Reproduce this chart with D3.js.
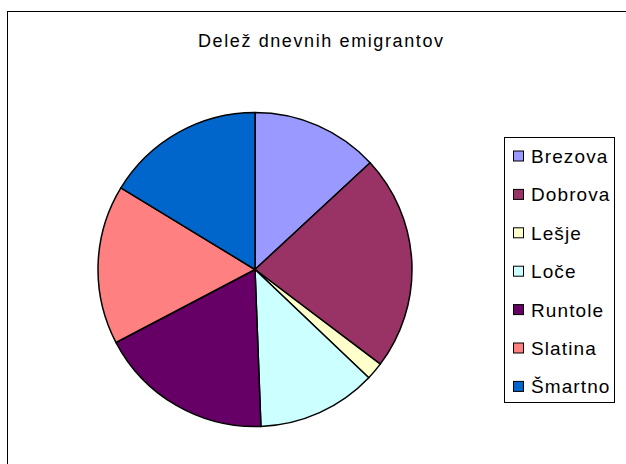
<!DOCTYPE html>
<html><head><meta charset="utf-8">
<script src="https://cdn.jsdelivr.net/npm/d3@7"></script>
<style>body{margin:0;background:#fff}svg{display:block}</style>
</head><body>
<script>
const title = "Delež dnevnih emigrantov";
const categories = ["Brezova","Dobrova","Lešje","Loče","Runtole","Slatina","Šmartno"];
const values = [131, 222, 18, 123, 179, 164, 163];
const colors = ["#9999FF","#993366","#FFFFCC","#CCFFFF","#660066","#FF8080","#0066CC"];

const W = 626, H = 464;
const svg = d3.select("body").append("svg").attr("width", W).attr("height", H);
svg.append("rect").attr("width", W).attr("height", H).attr("fill", "#fff");
// chart area border (extends past right/bottom)
svg.append("rect").attr("x", 7.5).attr("y", 11.5).attr("width", W + 10).attr("height", H + 10)
  .attr("fill", "none").attr("stroke", "#000").attr("stroke-width", 1);

svg.append("text").attr("x", 198).attr("y", 47)
  .attr("font-family", "Liberation Sans, Arial, sans-serif").attr("font-size", 18)
  .attr("textLength", 245).attr("lengthAdjust", "spacing")
  .attr("fill", "#000").text(title);

const cx = 255, cy = 269.5, r = 157;
const pie = d3.pie().sort(null).value(d => d)(values);
const arc = d3.arc().innerRadius(0).outerRadius(r);
const g = svg.append("g").attr("transform", `translate(${cx},${cy})`);
g.selectAll("path").data(pie).enter().append("path")
  .attr("d", arc).attr("fill", (d, i) => colors[i])
  .attr("stroke", "#000").attr("stroke-width", 1.5).attr("stroke-linejoin", "round");

// legend
const lx = 504.5, ly = 137.5, lw = 110, lh = 265;
svg.append("rect").attr("x", lx).attr("y", ly).attr("width", lw).attr("height", lh)
  .attr("fill", "#fff").attr("stroke", "#000").attr("stroke-width", 1);
const step = 38.4;
const leg = svg.append("g");
categories.forEach((c, i) => {
  const yc = 156 + i * step;
  leg.append("rect").attr("x", 513.5).attr("y", yc - 5).attr("width", 10).attr("height", 10)
    .attr("fill", colors[i]).attr("stroke", "#000").attr("stroke-width", 1);
  leg.append("text").attr("x", 531).attr("y", yc + 7)
    .attr("font-family", "Liberation Sans, Arial, sans-serif").attr("font-size", 19)
    .attr("letter-spacing", 1.1)
    .attr("fill", "#000").text(c);
});
</script>
</body></html>
